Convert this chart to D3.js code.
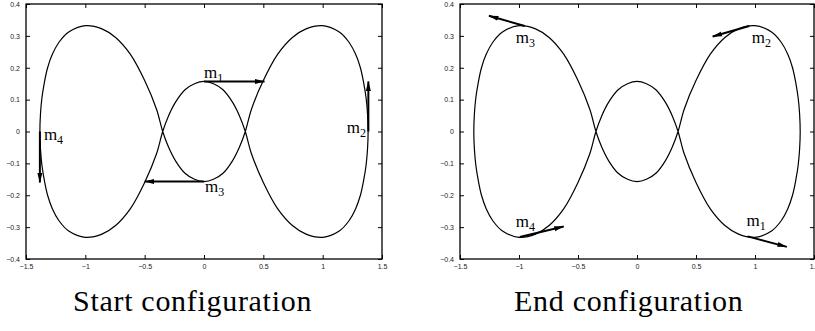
<!DOCTYPE html>
<html>
<head>
<meta charset="utf-8">
<script src="https://cdn.jsdelivr.net/npm/d3@7"></script>
<style>
  html, body { margin: 0; padding: 0; background: #fff; }
  svg { display: block; }
</style>
</head>
<body>
<svg id="chart" width="815" height="331"></svg>
<script>
// Axis ticks shared by both panels
const xTicks = [-1.5, -1, -0.5, 0, 0.5, 1, 1.5];
const yTicks = [-0.4, -0.3, -0.2, -0.1, 0, 0.1, 0.2, 0.3, 0.4];

// Closed orbit traced by the four bodies, in traversal order
const orbitX = [
  1.383, 1.378, 1.366, 1.346, 1.318, 1.278, 1.222, 1.14, 1.0, 0.86, 0.745, 0.62, 0.5, 0.40,
  0.348, 0.30, 0.24, 0.16, 0.08, 0.0, -0.08, -0.16, -0.24, -0.30,
  -0.348, -0.40, -0.5, -0.62, -0.745, -0.86, -1.0, -1.14, -1.222, -1.278, -1.318, -1.346, -1.366, -1.378,
  -1.383, -1.378, -1.366, -1.346, -1.318, -1.278, -1.222, -1.14, -1.0, -0.86, -0.745, -0.62, -0.5, -0.40,
  -0.348, -0.30, -0.24, -0.16, -0.08, 0.0, 0.08, 0.16, 0.24, 0.30,
  0.348, 0.40, 0.5, 0.62, 0.745, 0.86, 1.0, 1.14, 1.222, 1.278, 1.318, 1.346, 1.366, 1.378
];
const orbitY = [
  0.0, 0.055, 0.105, 0.152, 0.2, 0.242, 0.28, 0.312, 0.332, 0.322, 0.295, 0.242, 0.16, 0.07,
  0.0, -0.048, -0.092, -0.131, -0.150, -0.157, -0.150, -0.131, -0.092, -0.048,
  0.0, 0.07, 0.16, 0.242, 0.295, 0.322, 0.332, 0.312, 0.28, 0.242, 0.2, 0.152, 0.105, 0.055,
  0.0, -0.055, -0.105, -0.152, -0.2, -0.242, -0.28, -0.312, -0.332, -0.322, -0.295, -0.242, -0.16, -0.07,
  0.0, 0.048, 0.092, 0.131, 0.150, 0.157, 0.150, 0.131, 0.092, 0.048,
  0.0, -0.07, -0.16, -0.242, -0.295, -0.322, -0.332, -0.312, -0.28, -0.242, -0.2, -0.152, -0.105, -0.055
];

// Bodies: positions and velocity-arrow tips
const bodyNames = ["1", "2", "3", "4"];
const startPosX = [0, 1.385, 0, -1.383];
const startPosY = [0.157, 0, -0.157, 0];
const startTipX = [0.51, 1.385, -0.5, -1.383];
const startTipY = [0.157, 0.157, -0.157, -0.16];
const endPosX = [0.937, 0.951, -0.951, -0.993];
const endPosY = [-0.329, 0.331, 0.331, -0.331];
const endTipX = [1.27, 0.641, -1.255, -0.621];
const endTipY = [-0.362, 0.298, 0.363, -0.298];

const panelTitles = ["Start configuration", "End configuration"];

const serifFont = '"Liberation Serif"';
const sansFont = '"Liberation Sans"';

// Layout
const svg = d3.select("#chart");
const panels = [
  { left: 26, right: 382, title: panelTitles[0], titleX: 73,
    px: startPosX, py: startPosY, tx: startTipX, ty: startTipY,
    labelOff: [[0, -3], [-21.5, 1.5], [1, 10], [4, 8]] },
  { left: 460, right: 814, title: panelTitles[1], titleX: 514,
    px: endPosX, py: endPosY, tx: endTipX, ty: endTipY,
    labelOff: [[-1, -10], [2.5, 17.5], [-9, 17.5], [-4, -10.5]] }
];
const plotTop = 4, plotBottom = 259, tickLen = 4;

svg.append("defs").append("marker")
  .attr("id", "head")
  .attr("viewBox", "0 0 10 6")
  .attr("refX", 9.5).attr("refY", 3)
  .attr("markerUnits", "userSpaceOnUse")
  .attr("markerWidth", 10).attr("markerHeight", 6)
  .attr("orient", "auto")
  .append("path")
  .attr("d", "M0,0.5 L10,3 L0,5.5 Z")
  .attr("fill", "#000");

const orbit = orbitX.map((x, i) => [x, orbitY[i]]);

panels.forEach(p => {
  const x = d3.scaleLinear().domain([-1.5, 1.5]).range([p.left, p.right]);
  const y = d3.scaleLinear().domain([-0.4, 0.4]).range([plotBottom, plotTop]);
  const g = svg.append("g");

  // Frame with mirrored inward ticks
  const tickStyle = s => s.call(a => a.select(".domain").remove())
    .selectAll(".tick text")
    .style("font-family", sansFont).style("font-size", "7px").attr("fill", "#222");

  g.append("g").attr("transform", `translate(0,${plotBottom})`)
    .call(d3.axisBottom(x).tickValues(xTicks).tickSize(-tickLen).tickPadding(5)
      .tickFormat(d => d3.format("")(d)))
    .call(tickStyle);
  g.append("g").attr("transform", `translate(0,${plotTop})`)
    .call(d3.axisTop(x).tickValues(xTicks).tickSize(-tickLen).tickFormat(""))
    .call(s => s.select(".domain").remove());
  g.append("g").attr("transform", `translate(${p.left},0)`)
    .call(d3.axisLeft(y).tickValues(yTicks).tickSize(-tickLen).tickPadding(6)
      .tickFormat(d => d3.format("")(Math.round(d * 10) / 10)))
    .call(tickStyle);
  g.append("g").attr("transform", `translate(${p.right},0)`)
    .call(d3.axisRight(y).tickValues(yTicks).tickSize(-tickLen).tickFormat(""))
    .call(s => s.select(".domain").remove());
  g.selectAll(".tick line").attr("stroke", "#000").attr("stroke-width", 1);

  g.append("rect")
    .attr("x", p.left).attr("y", plotTop)
    .attr("width", p.right - p.left).attr("height", plotBottom - plotTop)
    .attr("fill", "none").attr("stroke", "#000").attr("stroke-width", 1.3);

  // Orbit curve
  const line = d3.line().x(d => x(d[0])).y(d => y(d[1])).curve(d3.curveCatmullRomClosed.alpha(0.5));
  g.append("path").datum(orbit)
    .attr("d", line)
    .attr("fill", "none").attr("stroke", "#000").attr("stroke-width", 1.2);

  // Velocity arrows and body labels
  bodyNames.forEach((name, i) => {
    g.append("line")
      .attr("x1", x(p.px[i])).attr("y1", y(p.py[i]))
      .attr("x2", x(p.tx[i])).attr("y2", y(p.ty[i]))
      .attr("stroke", "#000").attr("stroke-width", 2)
      .attr("marker-end", "url(#head)");
    const t = g.append("text")
      .attr("x", x(p.px[i]) + p.labelOff[i][0])
      .attr("y", y(p.py[i]) + p.labelOff[i][1])
      .style("font-family", serifFont).style("font-size", "17px").attr("fill", "#000");
    t.append("tspan").text("m");
    t.append("tspan").style("font-size", "12px").attr("dy", 4).text(name);
  });

  // Panel caption
  svg.append("text")
    .attr("x", p.titleX).attr("y", 311)
    .style("font-family", serifFont).style("font-size", "30px")
    .style("letter-spacing", "0.7px").attr("fill", "#000")
    .text(p.title);
});
</script>
</body>
</html>
